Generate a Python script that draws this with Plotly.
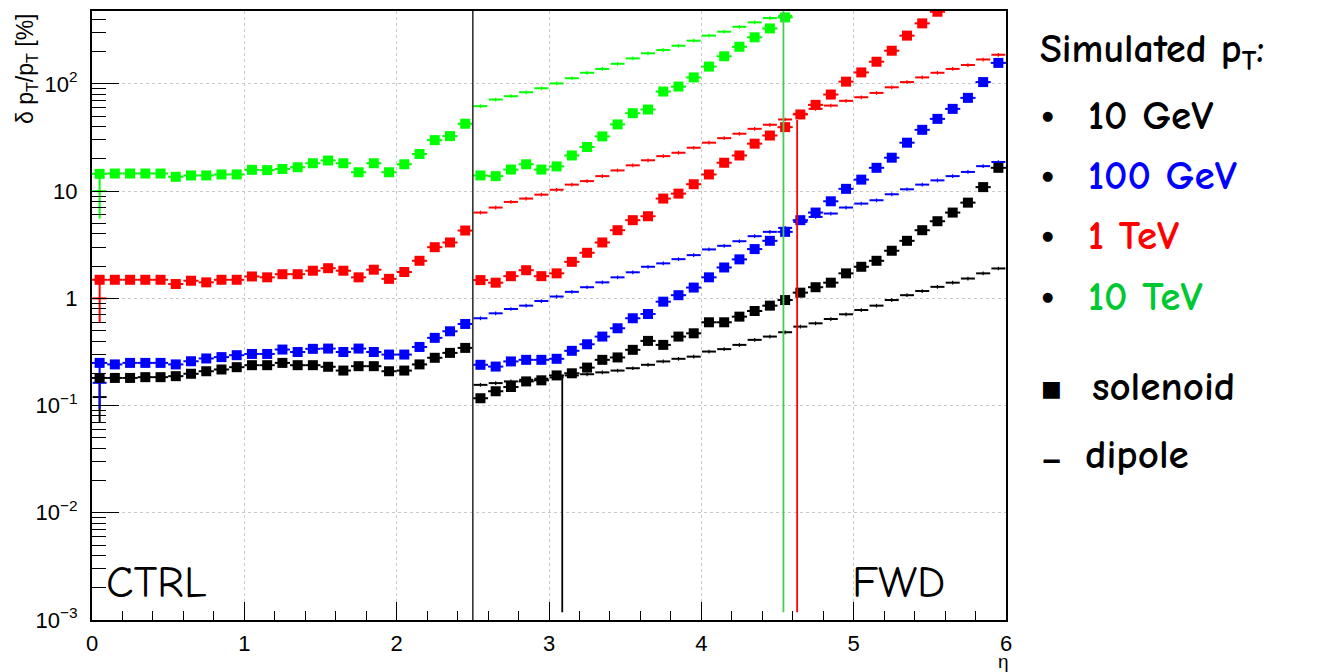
import plotly.graph_objects as go

# ---------------- data ----------------
bin_width = 0.1
first_bin = 0.05          # centre of the first eta bin
fwd_first_bin = 2.55      # centre of the first forward bin (dipole)

# solenoid, one value per eta bin starting at eta = 0.05
sol_10GeV = [0.181, 0.181, 0.181, 0.184, 0.184, 0.188, 0.198, 0.209, 0.217, 0.228,
             0.238, 0.238, 0.250, 0.238, 0.238, 0.230, 0.212, 0.233, 0.233, 0.209,
             0.212, 0.242, 0.279, 0.310, 0.345,
             0.117, 0.136, 0.149, 0.168, 0.172, 0.191, 0.200, 0.226, 0.267, 0.281,
             0.331, 0.401, 0.368, 0.440, 0.472, 0.598, 0.598, 0.675, 0.762, 0.855,
             0.964, 1.13, 1.27, 1.40, 1.71, 1.97, 2.24, 2.78, 3.44, 4.32,
             5.24, 6.31, 7.81, 10.9, 16.5]
sol_100GeV = [0.250, 0.242, 0.250, 0.250, 0.250, 0.242, 0.259, 0.275, 0.283, 0.295,
              0.303, 0.303, 0.333, 0.316, 0.338, 0.340, 0.316, 0.340, 0.316, 0.299,
              0.299, 0.352, 0.428, 0.493, 0.577,
              0.240, 0.231, 0.258, 0.267, 0.267, 0.273, 0.324, 0.373, 0.440, 0.526,
              0.652, 0.715, 0.931, 1.07, 1.26, 1.57, 1.94, 2.31, 2.88, 3.44,
              4.17, 5.36, 6.31, 8.04, 10.5, 12.8, 16.5, 20.5, 28.3, 37.3,
              47.2, 58.5, 74.1, 104, 157]
sol_1TeV = [1.49, 1.49, 1.49, 1.49, 1.49, 1.36, 1.46, 1.41, 1.49, 1.49,
            1.60, 1.57, 1.68, 1.68, 1.81, 1.91, 1.81, 1.57, 1.85, 1.52,
            1.76, 2.24, 3.00, 3.32, 4.29,
            1.48, 1.40, 1.61, 1.83, 1.61, 1.71, 2.19, 2.66, 3.32, 4.32,
            5.36, 5.83, 8.52, 9.48, 11.6, 14.3, 18.4, 21.5, 27.7, 33.0,
            39.5, 51.9, 63.8, 79.6, 105, 128, 161, 204, 282, 367, 471]
sol_10TeV = [14.5, 14.6, 14.6, 14.6, 14.6, 13.6, 14.0, 14.0, 14.3, 14.3,
             15.8, 15.7, 16.1, 16.7, 18.2, 19.3, 18.2, 15.0, 18.2, 15.0,
             17.8, 22.2, 29.9, 32.6, 42.5,
             14.0, 13.8, 15.9, 17.8, 15.9, 17.0, 21.5, 25.8, 32.4, 41.9,
             53.3, 57.7, 84.9, 94.4, 115, 145, 181, 222, 272, 329, 417]

# dipole, one value per eta bin starting at eta = 2.55
dip_10GeV = [0.156, 0.162, 0.168, 0.174, 0.178, 0.183, 0.191, 0.196, 0.204, 0.212,
             0.223, 0.240, 0.258, 0.273, 0.286, 0.319, 0.336, 0.368, 0.410, 0.440,
             0.483, 0.545, 0.585, 0.642, 0.710, 0.778, 0.855, 0.964, 1.07, 1.17,
             1.28, 1.40, 1.53, 1.71, 1.90]
dip_100GeV = [0.652, 0.725, 0.796, 0.855, 0.944, 1.04, 1.15, 1.27, 1.41, 1.57,
              1.75, 1.97, 2.12, 2.32, 2.53, 2.86, 3.09, 3.41, 3.80, 4.17,
              4.54, 5.16, 5.75, 6.18, 7.03, 7.65, 8.22, 9.35, 10.4, 11.5,
              12.6, 13.8, 15.1, 17.1, 18.7]
dip_1TeV = [6.31, 7.03, 7.93, 8.52, 9.27, 10.3, 11.5, 12.4, 13.8, 15.6,
            17.4, 19.4, 21.2, 22.8, 25.4, 28.3, 31.2, 34.3, 38.1, 41.6,
            46.6, 52.6, 58.5, 62.8, 69.5, 75.1, 82.4, 93.0, 104, 115,
            127, 138, 150, 169, 187]
dip_10TeV = [62, 71.5, 76.8, 83.6, 91.1, 101, 113, 127, 138, 154,
             173, 193, 207, 227, 253, 282, 307, 341, 375, 411, 432]

# dipole first-bin entries at eta = 0.05 (value, error)
dip_first_val = [0.12, 0.163, 1.0, 10.0]
dip_first_err = [0.05, 0.07, 0.41, 4.45]

# drop lines of the curves (eta, top value) down to the floor
drop_eta = [3.087, 4.629, 4.539]
drop_top = [0.188, 46.0, 600.0]
drop_floor = 1.18e-3

labels = ["10 GeV", "100 GeV", "1 TeV", "10 TeV"]
colors = ["#000000", "#0000ff", "#ff0000", "#00ff00"]
legend_colors = ["#000000", "#0000ff", "#ff0000", "#00c832"]
drop_colors = ["#000000", "#ff0000", "#44cc55"]

y_ticks = [1e-3, 1e-2, 1e-1, 1, 10, 100]
y_ticktext = ["10<sup>\u22123</sup>", "10<sup>\u22122</sup>", "10<sup>\u22121</sup>", "1", "10", "10<sup>2</sup>"]
x_ticks = [0, 1, 2, 3, 4, 5, 6]

# ---------------- figure ----------------
fig = go.Figure()

sol_series = [sol_10GeV, sol_100GeV, sol_1TeV, sol_10TeV]
dip_series = [dip_10GeV, dip_100GeV, dip_1TeV, dip_10TeV]

for vals, c in zip(dip_series, colors):
    eta = [round(fwd_first_bin + bin_width * i, 3) for i in range(len(vals))]
    fig.add_trace(go.Scatter(
        x=eta, y=vals, mode="markers",
        marker=dict(size=1, color=c),
        error_x=dict(type="constant", value=0.046, width=0, thickness=2, color=c),
        error_y=dict(type="percent", value=4, width=0, thickness=1.2, color=c),
        hoverinfo="x+y"))

for v, e, c in zip(dip_first_val, dip_first_err, colors):
    fig.add_trace(go.Scatter(
        x=[first_bin], y=[v], mode="markers",
        marker=dict(size=1, color=c),
        error_x=dict(type="constant", value=0.046, width=0, thickness=2, color=c),
        error_y=dict(type="constant", value=e, width=0, thickness=2, color=c)))

for vals, c in zip(sol_series, colors):
    eta = [round(first_bin + bin_width * i, 3) for i in range(len(vals))]
    fig.add_trace(go.Scatter(
        x=eta, y=vals, mode="markers",
        marker=dict(symbol="square", size=10, color=c),
        error_x=dict(type="constant", value=0.05, width=0, thickness=2, color=c),
        hoverinfo="x+y"))

for xe, top, c in zip(drop_eta, drop_top, drop_colors):
    fig.add_trace(go.Scatter(x=[xe, xe], y=[top, drop_floor], mode="lines",
                             line=dict(color=c, width=1.8), hoverinfo="skip"))

# boundary CTRL / FWD
fig.add_shape(type="line", xref="x", yref="paper", x0=2.5, x1=2.5, y0=0, y1=1,
              line=dict(color="#333333", width=1.6))

# ---------------- layout ----------------
OFF = 8                      # page body margin of the browser
PL, PR, PT, PB = 92, 1006, 9, 620   # plot area in page pixels
W, H = 1319 - OFF, 672 - OFF
pw, ph = PR - PL, PB - PT


def px(xp):
    return (xp - PL) / pw


def py(yp):
    return (PB - yp) / ph


tick_font = dict(family="Liberation Sans, Arial, sans-serif", size=22, color="#000")
comic = "Comic Sans MS, Comic Neue, Lato, sans-serif"

fig.update_layout(
    width=W, height=H, autosize=False,
    margin=dict(l=PL - OFF, r=W + OFF - PR, t=PT - OFF, b=H + OFF - PB, pad=0),
    plot_bgcolor="white", paper_bgcolor="white",
    showlegend=False,
    xaxis=dict(range=[0, 6], tickvals=x_ticks, ticks="inside", ticklen=18,
               tickwidth=1.3, tickcolor="#000", tickfont=tick_font,
               minor=dict(ticks="inside", ticklen=9, dtick=0.2, tick0=0,
                          tickcolor="#000", tickwidth=1.3, showgrid=False),
               showline=True, linecolor="#000", linewidth=2, mirror=True,
               showgrid=True, gridcolor="#c8c8c8", griddash="dot", gridwidth=1,
               zeroline=False, ticklabelstandoff=3),
    yaxis=dict(type="log", range=[-3, 2.68], tickvals=y_ticks, ticktext=y_ticktext,
               ticks="inside", ticklen=27, tickwidth=1.3, tickcolor="#000",
               tickfont=tick_font,
               minor=dict(ticks="inside", ticklen=14, tickcolor="#000", tickwidth=1.3,
                          tickmode="array",
                          tickvals=[k * 10.0 ** n for n in range(-3, 3) for k in range(2, 10)],
                          showgrid=False),
               showline=True, linecolor="#000", linewidth=2, mirror=True,
               showgrid=True, gridcolor="#c8c8c8", griddash="dot", gridwidth=1,
               zeroline=False, ticklabelstandoff=8),
)

ann = []
# axis titles
ann.append(dict(x=px(27), y=py(10), xref="paper", yref="paper", xanchor="center", yanchor="top",
                text="\u03b4 p<sub>T</sub>/p<sub>T</sub> [%]", textangle=-90, showarrow=False,
                font=dict(family="Liberation Sans, Arial, sans-serif", size=23, color="#000")))
ann.append(dict(x=px(1003), y=py(662), xref="paper", yref="paper", xanchor="center", yanchor="middle",
                text="\u03b7", showarrow=False,
                font=dict(family="Liberation Sans, Arial, sans-serif", size=19, color="#000")))
# region labels
ann.append(dict(x=px(104), y=py(582), xref="paper", yref="paper", xanchor="left", yanchor="middle",
                text="CTRL", showarrow=False, font=dict(family=comic, size=45, color="#000")))
ann.append(dict(x=px(850), y=py(582), xref="paper", yref="paper", xanchor="left", yanchor="middle",
                text="FWD", showarrow=False, font=dict(family=comic, size=45, color="#000")))
# legend block
ann.append(dict(x=px(1038), y=py(50), xref="paper", yref="paper", xanchor="left", yanchor="middle",
                text="<b>Simulated p<sub>T</sub>:</b>", showarrow=False,
                font=dict(family=comic, size=40, color="#000")))
for lab, c, yc in zip(labels, legend_colors, [114, 174, 234, 295]):
    ann.append(dict(x=px(1047), y=py(yc), xref="paper", yref="paper", xanchor="center", yanchor="middle",
                    text="\u25cf", showarrow=False, font=dict(family="DejaVu Sans", size=13, color="#000")))
    ann.append(dict(x=px(1086), y=py(yc), xref="paper", yref="paper", xanchor="left", yanchor="middle",
                    text="<b>" + lab + "</b>", showarrow=False, font=dict(family=comic, size=41, color=c)))
ann.append(dict(x=px(1051), y=py(388), xref="paper", yref="paper", xanchor="center", yanchor="middle",
                text="\u25a0", showarrow=False, font=dict(family="DejaVu Sans", size=22, color="#000")))
ann.append(dict(x=px(1090), y=py(386), xref="paper", yref="paper", xanchor="left", yanchor="middle",
                text="<b>solenoid</b>", showarrow=False, font=dict(family=comic, size=41, color="#000")))
ann.append(dict(x=px(1051), y=py(457), xref="paper", yref="paper", xanchor="center", yanchor="middle",
                text="<b>\u2013</b>", showarrow=False, font=dict(family="Lato", size=40, color="#000")))
ann.append(dict(x=px(1083), y=py(454), xref="paper", yref="paper", xanchor="left", yanchor="middle",
                text="<b>dipole</b>", showarrow=False, font=dict(family=comic, size=41, color="#000")))
fig.update_layout(annotations=ann)

fig.write_html("out.html")
